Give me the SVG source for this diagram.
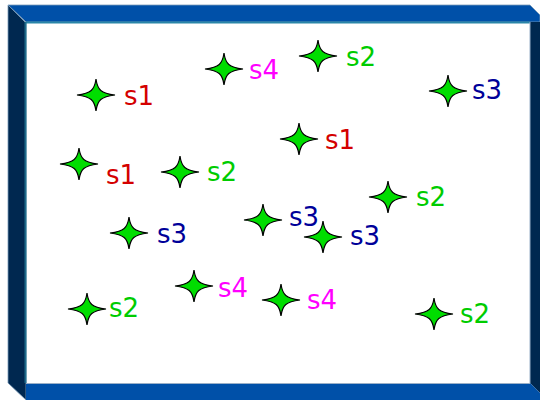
<svg xmlns="http://www.w3.org/2000/svg" width="540" height="400" viewBox="0 0 540 400">
<style>
.lbl{font-family:"DejaVu Sans",Verdana,sans-serif;font-size:26px}
.c1{fill:#d40000}.c2{fill:#00cc00}.c3{fill:#000099}.c4{fill:#ff00ff}
.star{fill:#00dd00;stroke:#000;stroke-width:1.2;stroke-linejoin:miter}
</style>
<defs>
<path id="st" d="M0,-16 C1.5,-5 5,-1.8 19,0 C5,1.8 1.5,5 0,16 C-1.5,5 -5,1.8 -19,0 C-5,-1.8 -1.5,-5 0,-16 Z"/>
</defs>
<rect x="0" y="0" width="540" height="400" fill="#fff"/>
<g id="frame">
<rect x="26" y="22" width="504" height="361" fill="#fff"/>
<polygon points="8,5 530,5 540,15 540,22 26,22" fill="#0050a8" stroke="#7a9ab8" stroke-width="0.8"/>
<polygon points="8,5 26,23 26,400 8,383" fill="#002850" stroke="#7a9ab8" stroke-width="0.8"/>
<polygon points="530,22 540,22 540,393 530,383" fill="#002850"/>
<polygon points="26,383 530,383 540,393 540,400 26,400" fill="#0050a8"/>
<line x1="26" y1="22.5" x2="530" y2="22.5" stroke="#2a86a8" stroke-width="2"/>
<line x1="25.5" y1="22" x2="25.5" y2="383" stroke="#1d6a8a" stroke-width="2"/>
<line x1="26" y1="383.5" x2="530" y2="383.5" stroke="#9ab0c8" stroke-width="1.2"/>
<line x1="530" y1="22" x2="530" y2="383" stroke="#9ab0c8" stroke-width="1"/>
</g>
<g id="connectors"/>
<g id="n1"><use href="#st" class="star" x="96" y="95"/><text class="lbl c1" x="124" y="105">s1</text></g>
<g id="n2"><use href="#st" class="star" x="224" y="69"/><text class="lbl c4" x="249" y="79">s4</text></g>
<g id="n3"><use href="#st" class="star" x="318" y="56"/><text class="lbl c2" x="346" y="66">s2</text></g>
<g id="n4"><use href="#st" class="star" x="448" y="91"/><text class="lbl c3" x="472" y="99">s3</text></g>
<g id="n5"><use href="#st" class="star" x="299" y="139"/><text class="lbl c1" x="325" y="149">s1</text></g>
<g id="n6"><use href="#st" class="star" x="79" y="164"/><text class="lbl c1" x="106" y="184">s1</text></g>
<g id="n7"><use href="#st" class="star" x="180" y="172"/><text class="lbl c2" x="207" y="181">s2</text></g>
<g id="n8"><use href="#st" class="star" x="388" y="197"/><text class="lbl c2" x="416" y="206">s2</text></g>
<g id="n9"><use href="#st" class="star" x="129" y="233"/><text class="lbl c3" x="157" y="243">s3</text></g>
<g id="n10"><use href="#st" class="star" x="263" y="220"/><text class="lbl c3" x="289" y="226">s3</text></g>
<g id="n11"><use href="#st" class="star" x="323" y="237"/><text class="lbl c3" x="350" y="245">s3</text></g>
<g id="n12"><use href="#st" class="star" x="194" y="286"/><text class="lbl c4" x="218" y="297">s4</text></g>
<g id="n13"><use href="#st" class="star" x="281" y="300"/><text class="lbl c4" x="307" y="309">s4</text></g>
<g id="n14"><use href="#st" class="star" x="87" y="309"/><text class="lbl c2" x="109" y="317">s2</text></g>
<g id="n15"><use href="#st" class="star" x="434" y="314"/><text class="lbl c2" x="460" y="323">s2</text></g>
</svg>
